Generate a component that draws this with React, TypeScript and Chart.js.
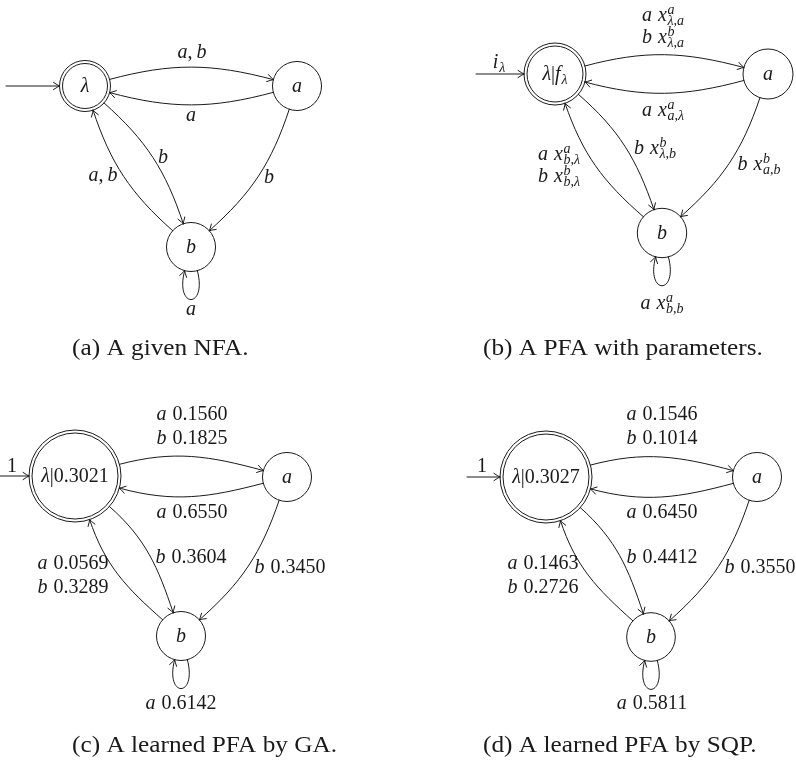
import { useEffect, useRef } from 'react';
import { Chart, registerables } from 'chart.js';

Chart.register(...registerables);

const W = 796;
const H = 761;

// ---------------- data ----------------
const captions = [
  '(a) A given NFA.',
  '(b) A PFA with parameters.',
  '(c) A learned PFA by GA.',
  '(d) A learned PFA by SQP.',
];
const states = ['λ', 'a', 'b'];
const edgeFrom = [0, 1, 0, 2, 1, 2];
const edgeTo = [1, 0, 2, 0, 2, 2];
const edgeSymbols = [['a', 'b'], ['a'], ['b'], ['a', 'b'], ['b'], ['a']];
const gaWeights = [[0.156, 0.1825], [0.655], [0.3604], [0.0569, 0.3289], [0.345], [0.6142]];
const sqpWeights = [[0.1546, 0.1014], [0.645], [0.4412], [0.1463, 0.2726], [0.355], [0.5811]];
const gaInitial = 1;
const sqpInitial = 1;
const gaFinal = 0.3021;
const sqpFinal = 0.3027;

// ---------------- layout ----------------
const nodeX = [[85, 297, 191], [555, 768, 662], [75, 287, 181], [546, 757, 651]];
const nodeY = [[86, 86, 247], [74, 74, 233], [476, 477, 636], [477, 477, 637]];
const nodeR = [[25.5, 24.5, 24.5], [31, 25, 24.7], [46, 24.5, 24.5], [46, 24.5, 24.3]];
const ringGap = 3;
const initStartX = [6, 476, 0, 467];
const initLabelX = [0, 499, 12, 482];
const initLabelY = [0, 62, 466, 466];
const labelX = [
  [192, 191, 163, 103, 269, 191],
  [663, 663, 655, 559, 759, 662],
  [192, 192, 191, 73, 290, 181],
  [662, 662, 662, 543, 760, 652],
];
const labelY = [
  [52, 115, 157, 175, 177, 309],
  [15, 110, 148, 154, 164, 303],
  [414, 512, 557, 563, 567, 703],
  [414, 512, 557, 563, 567, 703],
];
const lineGap = [0, 22, 24, 24];
const captionLeft = [72, 483, 72, 483];
const captionBase = [355, 355, 752, 752];
const captionStretch = 1.1;
const bendDeg = 15;
const loopDist = 40;
const labelSize = 20;
const captionSize = 23;
const ink = '#1a1a1a';
const FONT = '"Liberation Serif", "DejaVu Serif", serif';

type Run = { t?: string; it?: boolean; gap?: number; sup?: Run[]; sub?: Run[] };

function setFont(ctx: CanvasRenderingContext2D, it: boolean, size: number) {
  ctx.font = `${it ? 'italic ' : ''}${size}px ${FONT}`;
}

function runsWidth(ctx: CanvasRenderingContext2D, runs: Run[], size: number): number {
  let w = 0;
  for (const r of runs) {
    if (r.gap) w += r.gap * size;
    else if (r.sup || r.sub) {
      w += Math.max(
        r.sup ? runsWidth(ctx, r.sup, size * 0.7) : 0,
        r.sub ? runsWidth(ctx, r.sub, size * 0.7) : 0
      ) + size * 0.04;
    } else {
      setFont(ctx, !!r.it, size);
      w += ctx.measureText(r.t || '').width;
    }
  }
  return w;
}

function drawRuns(ctx: CanvasRenderingContext2D, runs: Run[], x: number, base: number, size: number) {
  for (const r of runs) {
    if (r.gap) x += r.gap * size;
    else if (r.sup || r.sub) {
      const xs = x + size * 0.04;
      let w = 0;
      if (r.sup) {
        drawRuns(ctx, r.sup, xs, base - 0.37 * size, size * 0.7);
        w = Math.max(w, runsWidth(ctx, r.sup, size * 0.7));
      }
      if (r.sub) {
        drawRuns(ctx, r.sub, xs, base + (r.sup ? 0.2 : 0.2) * size, size * 0.7);
        w = Math.max(w, runsWidth(ctx, r.sub, size * 0.7));
      }
      x = xs + w;
    } else {
      setFont(ctx, !!r.it, size);
      ctx.fillText(r.t || '', x, base);
      x += ctx.measureText(r.t || '').width;
    }
  }
}

function drawCentered(ctx: CanvasRenderingContext2D, runs: Run[], cx: number, cy: number, size: number) {
  const w = runsWidth(ctx, runs, size);
  drawRuns(ctx, runs, cx - w / 2, cy + 0.3 * size, size);
}

function edgeLines(panel: number, e: number): Run[][] {
  const syms = edgeSymbols[e];
  if (panel === 0) {
    const runs: Run[] = [];
    syms.forEach((s, i) => {
      if (i > 0) {
        runs.push({ t: ',', it: false });
        runs.push({ gap: 0.2 });
      }
      runs.push({ t: s, it: true });
    });
    return [runs];
  }
  if (panel === 1) {
    return syms.map((s) => [
      { t: s, it: true },
      { gap: 0.3 },
      { t: 'x', it: true },
      {
        sup: [{ t: s, it: true }],
        sub: [
          { t: states[edgeFrom[e]], it: true },
          { t: ',', it: false },
          { t: states[edgeTo[e]], it: true },
        ],
      },
    ]);
  }
  const ws = panel === 2 ? gaWeights[e] : sqpWeights[e];
  return syms.map((s, i) => [
    { t: s, it: true },
    { gap: 0.3 },
    { t: ws[i].toFixed(4), it: false },
  ]);
}

function nodeLabel(panel: number, s: number): Run[] {
  if (s !== 0) return [{ t: states[s], it: true }];
  if (panel === 0) return [{ t: 'λ', it: true }];
  if (panel === 1)
    return [
      { t: 'λ', it: true },
      { t: '|', it: false },
      { t: 'f', it: true },
      { sub: [{ t: 'λ', it: true }] },
    ];
  const f = panel === 2 ? gaFinal : sqpFinal;
  return [
    { t: 'λ', it: true },
    { t: '|' + f.toFixed(4), it: false },
  ];
}

function initLabel(panel: number): Run[] | null {
  if (panel === 0) return null;
  if (panel === 1) return [{ t: 'i', it: true }, { sub: [{ t: 'λ', it: true }] }];
  return [{ t: String(panel === 2 ? gaInitial : sqpInitial), it: false }];
}

function drawArrowHead(ctx: CanvasRenderingContext2D, tx: number, ty: number, dx: number, dy: number) {
  const L = 6;
  const Wd = 3.6;
  const nx = -dy;
  const ny = dx;
  ctx.beginPath();
  for (const sgn of [1, -1]) {
    const bx = tx - dx * L + nx * Wd * sgn;
    const by = ty - dy * L + ny * Wd * sgn;
    const cx = tx - dx * L * 0.25 + nx * Wd * 0.15 * sgn;
    const cy = ty - dy * L * 0.25 + ny * Wd * 0.15 * sgn;
    ctx.moveTo(bx, by);
    ctx.quadraticCurveTo(cx, cy, tx, ty);
  }
  ctx.stroke();
}

export default function App() {
  const ref = useRef<HTMLCanvasElement>(null);

  useEffect(() => {
    const canvas = ref.current;
    if (!canvas) return;

    const statePts: { x: number; y: number }[] = [];
    const stateRad: number[] = [];
    const ringPts: { x: number; y: number }[] = [];
    const ringRad: number[] = [];
    for (let p = 0; p < 4; p++) {
      for (let s = 0; s < 3; s++) {
        statePts.push({ x: nodeX[p][s], y: nodeY[p][s] });
        stateRad.push(nodeR[p][s]);
      }
      ringPts.push({ x: nodeX[p][0], y: nodeY[p][0] });
      ringRad.push(nodeR[p][0] - ringGap);
    }

    const diagram = {
      id: 'automataDiagram',
      beforeDatasetsDraw(chart: any) {
        const ctx: CanvasRenderingContext2D = chart.ctx;
        const xs = chart.scales.x;
        const ys = chart.scales.y;
        const X = (v: number) => xs.getPixelForValue(v);
        const Y = (v: number) => ys.getPixelForValue(v);
        const R = (r: number) => Math.abs(xs.getPixelForValue(r) - xs.getPixelForValue(0));
        ctx.save();
        ctx.strokeStyle = ink;
        ctx.lineWidth = 1;
        ctx.lineCap = 'round';
        const bend = (bendDeg * Math.PI) / 180;
        for (let p = 0; p < 4; p++) {
          const lx = X(nodeX[p][0]) - R(nodeR[p][0]);
          const ly = Y(nodeY[p][0]);
          ctx.beginPath();
          ctx.moveTo(X(initStartX[p]), ly);
          ctx.lineTo(lx, ly);
          ctx.stroke();
          drawArrowHead(ctx, lx, ly, 1, 0);

          for (let e = 0; e < edgeFrom.length; e++) {
            const f = edgeFrom[e];
            const t = edgeTo[e];
            const ax = X(nodeX[p][f]);
            const ay = Y(nodeY[p][f]);
            const ra = R(nodeR[p][f]);
            const bx = X(nodeX[p][t]);
            const by = Y(nodeY[p][t]);
            const rb = R(nodeR[p][t]);
            let p0x, p0y, c1x, c1y, c2x, c2y, p3x, p3y;
            if (f === t) {
              const out = (75 * Math.PI) / 180;
              const inn = (105 * Math.PI) / 180;
              p0x = ax + ra * Math.cos(out);
              p0y = ay + ra * Math.sin(out);
              p3x = ax + ra * Math.cos(inn);
              p3y = ay + ra * Math.sin(inn);
              c1x = p0x + loopDist * Math.cos(out);
              c1y = p0y + loopDist * Math.sin(out);
              c2x = p3x + loopDist * Math.cos(inn);
              c2y = p3y + loopDist * Math.sin(inn);
            } else {
              const phi = Math.atan2(by - ay, bx - ax);
              const out = phi - bend;
              const inn = phi + Math.PI + bend;
              p0x = ax + ra * Math.cos(out);
              p0y = ay + ra * Math.sin(out);
              p3x = bx + rb * Math.cos(inn);
              p3y = by + rb * Math.sin(inn);
              const D = 0.3915 * Math.hypot(p3x - p0x, p3y - p0y);
              c1x = p0x + D * Math.cos(out);
              c1y = p0y + D * Math.sin(out);
              c2x = p3x + D * Math.cos(inn);
              c2y = p3y + D * Math.sin(inn);
            }
            ctx.beginPath();
            ctx.moveTo(p0x, p0y);
            ctx.bezierCurveTo(c1x, c1y, c2x, c2y, p3x, p3y);
            ctx.stroke();
            const dl = Math.hypot(p3x - c2x, p3y - c2y);
            drawArrowHead(ctx, p3x, p3y, (p3x - c2x) / dl, (p3y - c2y) / dl);
          }
        }
        ctx.restore();
      },
      afterDatasetsDraw(chart: any) {
        const ctx: CanvasRenderingContext2D = chart.ctx;
        const xs = chart.scales.x;
        const ys = chart.scales.y;
        const X = (v: number) => xs.getPixelForValue(v);
        const Y = (v: number) => ys.getPixelForValue(v);
        ctx.save();
        ctx.fillStyle = ink;
        ctx.textBaseline = 'alphabetic';
        ctx.textAlign = 'left';
        for (let p = 0; p < 4; p++) {
          for (let s = 0; s < 3; s++) {
            drawCentered(ctx, nodeLabel(p, s), X(nodeX[p][s]), Y(nodeY[p][s]), labelSize);
          }
          const il = initLabel(p);
          if (il) drawCentered(ctx, il, X(initLabelX[p]), Y(initLabelY[p]), labelSize);
          for (let e = 0; e < edgeFrom.length; e++) {
            const lines = edgeLines(p, e);
            lines.forEach((ln, i) => {
              drawCentered(ctx, ln, X(labelX[p][e]), Y(labelY[p][e] + i * lineGap[p]), labelSize);
            });
          }
          ctx.save();
          ctx.translate(X(captionLeft[p]), Y(captionBase[p]));
          ctx.scale(captionStretch, 1);
          setFont(ctx, false, captionSize);
          ctx.fillText(captions[p], 0, 0);
          ctx.restore();
        }
        ctx.restore();
      },
    };

    const chart = new Chart(canvas, {
      type: 'scatter',
      data: {
        datasets: [
          {
            label: 'states',
            data: statePts,
            pointRadius: stateRad,
            pointHoverRadius: stateRad,
            pointBorderWidth: 1,
            pointBorderColor: ink,
            pointBackgroundColor: 'rgba(255,255,255,0)',
            clip: false,
          } as any,
          {
            label: 'accepting',
            data: ringPts,
            pointRadius: ringRad,
            pointHoverRadius: ringRad,
            pointBorderWidth: 1,
            pointBorderColor: ink,
            pointBackgroundColor: 'rgba(255,255,255,0)',
            clip: false,
          } as any,
        ],
      },
      options: {
        animation: false,
        responsive: false,
        maintainAspectRatio: false,
        events: [],
        layout: { padding: 0, autoPadding: false },
        plugins: { legend: { display: false }, tooltip: { enabled: false } },
        scales: {
          x: { type: 'linear', display: false, min: 0, max: W },
          y: { type: 'linear', display: false, min: 0, max: H, reverse: true },
        },
      },
      plugins: [diagram],
    });
    return () => chart.destroy();
  }, []);

  return (
    <div style={{ position: 'fixed', left: 0, top: 0, width: W, height: H, background: '#fff' }}>
      <canvas ref={ref} width={W} height={H} style={{ display: 'block', width: W, height: H }} />
    </div>
  );
}
